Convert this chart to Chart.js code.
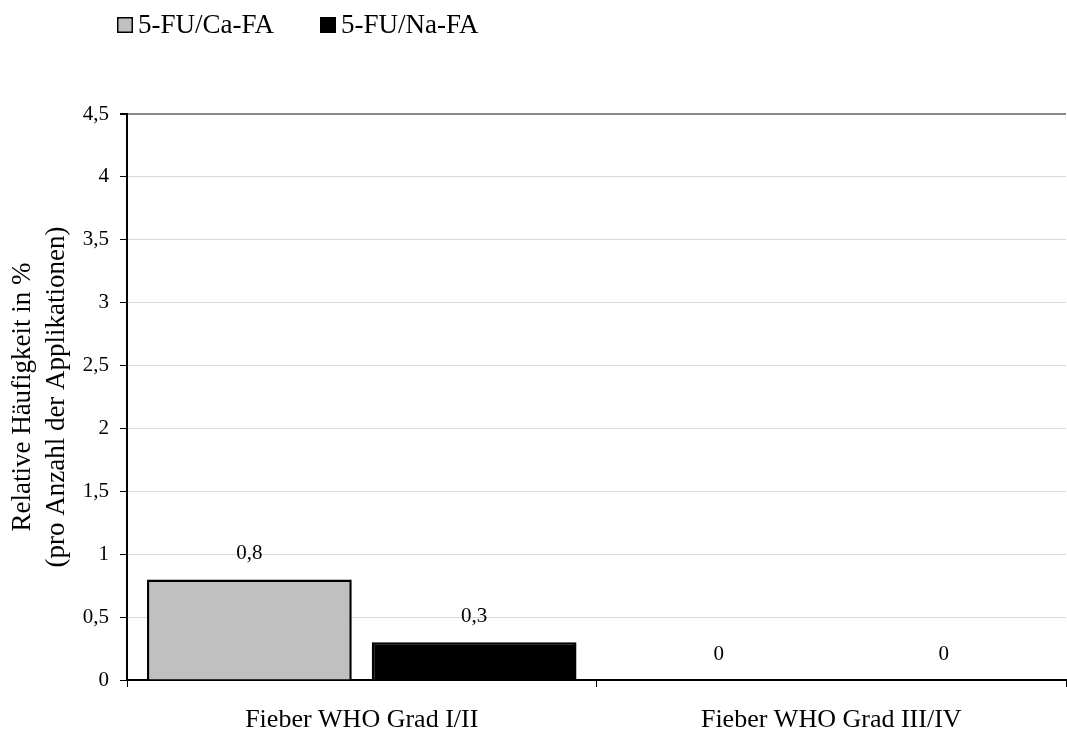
<!DOCTYPE html>
<html>
<head>
<meta charset="utf-8">
<script src="https://cdn.jsdelivr.net/npm/chart.js@4.4.1/dist/chart.umd.min.js"></script>
<style>
  html, body { margin: 0; padding: 0; background: #fff; }
  #wrap { width: 1067px; height: 733px; }
</style>
</head>
<body>
<div id="wrap"><canvas id="c" width="1067" height="733"></canvas></div>
<script>
// Fieber (WHO-Grad) – relative Häufigkeit pro Anzahl der Applikationen
const categories = ['Fieber WHO Grad I/II', 'Fieber WHO Grad III/IV'];
const seriesNames = ['5-FU/Ca-FA', '5-FU/Na-FA'];
const caFaValues = [0.8, 0];
const naFaValues = [0.3, 0];
const yTickMax = 4.5;
const yTickStep = 0.5;

const FONT = 'Liberation Serif';
const fmt = v => String(Math.round(v * 10) / 10).replace('.', ',');

// value labels above each bar
const valueLabels = {
  id: 'valueLabels',
  afterDatasetsDraw(chart) {
    const ctx = chart.ctx;
    ctx.save();
    ctx.font = `21px "${FONT}"`;
    ctx.fillStyle = '#000';
    ctx.textAlign = 'center';
    ctx.textBaseline = 'middle';
    chart.data.datasets.forEach((ds, di) => {
      chart.getDatasetMeta(di).data.forEach((bar, i) => {
        ctx.fillText(fmt(ds.data[i]), bar.x, bar.y - 26);
      });
    });
    ctx.restore();
  }
};

// legend row at the top left
const topLegend = {
  id: 'topLegend',
  afterDraw(chart) {
    const ctx = chart.ctx;
    ctx.save();
    ctx.font = `27px "${FONT}"`;
    ctx.textBaseline = 'alphabetic';
    let x = 117;
    chart.data.datasets.forEach(ds => {
      ctx.fillStyle = ds.backgroundColor;
      ctx.fillRect(x, 17, 16, 16);
      ctx.strokeStyle = '#000';
      ctx.lineWidth = 1.5;
      ctx.strokeRect(x + 0.75, 17.75, 14.5, 14.5);
      ctx.fillStyle = '#000';
      ctx.textAlign = 'left';
      ctx.fillText(ds.label, x + 21, 33);
      x += 21 + ctx.measureText(ds.label).width + 46;
    });
    ctx.restore();
  }
};

new Chart(document.getElementById('c'), {
  type: 'bar',
  data: {
    labels: categories,
    datasets: [
      { label: seriesNames[0], data: caFaValues, backgroundColor: '#c0c0c0', borderColor: '#000', borderWidth: 2.5 },
      { label: seriesNames[1], data: naFaValues, backgroundColor: '#000000', borderColor: '#000', borderWidth: 2.5 }
    ]
  },
  options: {
    responsive: false,
    animation: false,
    devicePixelRatio: 1,
    categoryPercentage: 450 / 470,
    barPercentage: 205 / 225,
    layout: { padding: { top: 114, right: 1, left: 0, bottom: 0 } },
    plugins: { legend: { display: false }, tooltip: { enabled: false } },
    scales: {
      x: {
        afterFit(s) { s.height = 53; },
        border: { color: '#000', width: 2 },
        grid: {
          drawOnChartArea: true,
          color: c => (c.index === categories.length ? '#d4d4d4' : 'rgba(0,0,0,0)'),
          tickColor: '#000',
          tickLength: 7
        },
        ticks: { color: '#000', font: { family: FONT, size: 26 }, padding: 18 }
      },
      y: {
        min: 0,
        max: yTickMax,
        afterFit(s) { s.width = 127; },
        border: { color: '#000', width: 2 },
        grid: {
          color: c => (c.tick && c.tick.value === yTickMax ? '#888888' : '#d9d9d9'),
          lineWidth: c => (c.tick && c.tick.value === yTickMax ? 2 : 1),
          tickColor: '#000',
          tickLength: 7
        },
        ticks: {
          stepSize: yTickStep,
          color: '#000',
          font: { family: FONT, size: 21 },
          padding: 11,
          callback: v => fmt(v)
        },
        title: {
          display: true,
          text: ['Relative Häufigkeit in %', '(pro Anzahl der Applikationen)'],
          color: '#000',
          font: { family: FONT, size: 27, lineHeight: 1.25 },
          padding: { top: 6, bottom: 0 }
        }
      }
    }
  },
  plugins: [valueLabels, topLegend]
});
</script>
</body>
</html>
